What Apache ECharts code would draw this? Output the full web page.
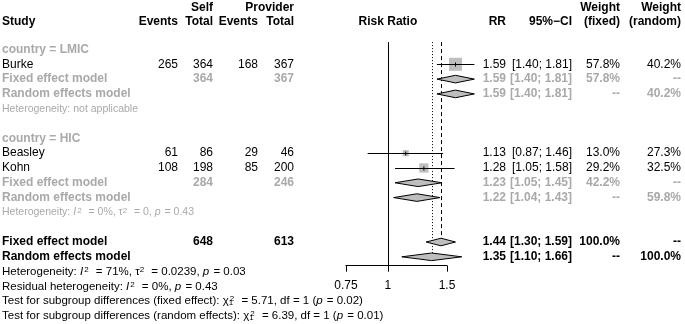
<!DOCTYPE html>
<html>
<head>
<meta charset="utf-8">
<script src="https://cdn.jsdelivr.net/npm/echarts@6/dist/echarts.min.js"></script>
<style>
  html, body { margin: 0; padding: 0; background: #fff; }
  #chart { width: 685px; height: 324px; }
</style>
</head>
<body>
<div id="chart"></div>
<script>
// studies
const studies = ['Burke', 'Beasley', 'Kohn'];
const studyRow = [1, 7, 8];
const eventsSelf = [265, 61, 108];
const totalSelf = [364, 86, 198];
const eventsProv = [168, 29, 85];
const totalProv = [367, 46, 200];
const rr = [1.59, 1.13, 1.28];
const rrLo = [1.40, 0.87, 1.05];
const rrHi = [1.81, 1.46, 1.58];
const wFixed = [57.8, 13.0, 29.2];
const wRandom = [40.2, 27.3, 32.5];

// subgroups
const subgroups = ['country = LMIC', 'country = HIC'];
const subRow = [0, 6];
const subTotalSelf = [364, 284];
const subTotalProv = [367, 246];
const subFixedRR = [1.59, 1.23];
const subFixedLo = [1.40, 1.05];
const subFixedHi = [1.81, 1.45];
const subFixedW = [57.8, 42.2];
const subRandomRR = [1.59, 1.22];
const subRandomLo = [1.40, 1.04];
const subRandomHi = [1.81, 1.43];
const subRandomW = [40.2, 59.8];
const subHet = [
  'Heterogeneity: not applicable',
  'Heterogeneity: {i|I}{sup|2} = 0%, τ{sup|2} = 0, {i|p} = 0.43'
];

// overall
const overallRow = 13;
const overallTotalSelf = 648;
const overallTotalProv = 613;
const overallFixed = [1.44, 1.30, 1.59];
const overallRandom = [1.35, 1.10, 1.66];
const footnotes = [
  'Heterogeneity: {i|I}{sup|2} = 71%, τ{sup|2} = 0.0239, {i|p} = 0.03',
  'Residual heterogeneity: {i|I}{sup|2} = 0%, {i|p} = 0.43',
  'Test for subgroup differences (fixed effect): χ{sub|1}{sup|2} = 5.71, df = 1 ({i|p} = 0.02)',
  'Test for subgroup differences (random effects): χ{sub|1}{sup|2} = 6.39, df = 1 ({i|p} = 0.01)'
];
const axisTicks = [0.75, 1, 1.5];

const FONT = 'Liberation Sans, Arial, Helvetica, sans-serif';
const GRAY = '#A9A9A9';
const FILL = '#BEBEBE';
// right edges of the table columns (left edge for study)
const colX = { study: 2, evS: 178, totS: 213, evP: 258, totP: 294, rr: 506, ci: 572, wF: 620, wR: 681 };

const f2 = v => v.toFixed(2);
const ciText = (l, h) => '[' + f2(l) + '; ' + f2(h) + ']';
const pct = w => w.toFixed(1) + '%';

// ---- table cells ----
const cells = [];
const cell = (col, row, text, o) => cells.push(Object.assign({ col, row, text, color: '#000', bold: false, size: 12 }, o || {}));

const h1 = -2.85, h2 = -1.9;
cell('study', h2, 'Study', { bold: true });
cell('evS', h2, 'Events', { bold: true });
cell('totS', h1, 'Self', { bold: true });
cell('totS', h2, 'Total', { bold: true });
cell('evP', h2, 'Events', { bold: true });
cell('totP', h1, 'Provider', { bold: true });
cell('totP', h2, 'Total', { bold: true });
cell('axis', h2, 'Risk Ratio', { bold: true });
cell('rr', h2, 'RR', { bold: true });
cell('ci', h2, '95%−CI', { bold: true });
cell('wF', h1, 'Weight', { bold: true });
cell('wF', h2, '(fixed)', { bold: true });
cell('wR', h1, 'Weight', { bold: true });
cell('wR', h2, '(random)', { bold: true });

studies.forEach((s, i) => {
  const r = studyRow[i];
  cell('study', r, s);
  cell('evS', r, String(eventsSelf[i]));
  cell('totS', r, String(totalSelf[i]));
  cell('evP', r, String(eventsProv[i]));
  cell('totP', r, String(totalProv[i]));
  cell('rr', r, f2(rr[i]));
  cell('ci', r, ciText(rrLo[i], rrHi[i]));
  cell('wF', r, pct(wFixed[i]));
  cell('wR', r, pct(wRandom[i]));
});

subgroups.forEach((g, k) => {
  const g0 = subRow[k];
  const n = studyRow.filter(r => r > g0 && r < g0 + 6).length;
  const rf = g0 + 1 + n, rrn = rf + 1;
  const gs = { color: GRAY, bold: true };
  cell('study', g0, g, gs);
  cell('study', rf, 'Fixed effect model', gs);
  cell('totS', rf, String(subTotalSelf[k]), gs);
  cell('totP', rf, String(subTotalProv[k]), gs);
  cell('rr', rf, f2(subFixedRR[k]), gs);
  cell('ci', rf, ciText(subFixedLo[k], subFixedHi[k]), gs);
  cell('wF', rf, pct(subFixedW[k]), gs);
  cell('wR', rf, '--', gs);
  cell('study', rrn, 'Random effects model', gs);
  cell('rr', rrn, f2(subRandomRR[k]), gs);
  cell('ci', rrn, ciText(subRandomLo[k], subRandomHi[k]), gs);
  cell('wF', rrn, '--', gs);
  cell('wR', rrn, pct(subRandomW[k]), gs);
  cell('study', rrn + 1, subHet[k], { color: GRAY, size: 10.5 });
});

cell('study', overallRow, 'Fixed effect model', { bold: true });
cell('totS', overallRow, String(overallTotalSelf), { bold: true });
cell('totP', overallRow, String(overallTotalProv), { bold: true });
cell('rr', overallRow, f2(overallFixed[0]), { bold: true });
cell('ci', overallRow, ciText(overallFixed[1], overallFixed[2]), { bold: true });
cell('wF', overallRow, '100.0%', { bold: true });
cell('wR', overallRow, '--', { bold: true });
cell('study', overallRow + 1, 'Random effects model', { bold: true });
cell('rr', overallRow + 1, f2(overallRandom[0]), { bold: true });
cell('ci', overallRow + 1, ciText(overallRandom[1], overallRandom[2]), { bold: true });
cell('wF', overallRow + 1, '--', { bold: true });
cell('wR', overallRow + 1, '100.0%', { bold: true });
footnotes.forEach((t, i) => cell('study', overallRow + 2 + i, t, { size: 11.5 }));

// ---- diamonds ----
const diamonds = [];
subgroups.forEach((g, k) => {
  const g0 = subRow[k];
  const n = studyRow.filter(r => r > g0 && r < g0 + 6).length;
  diamonds.push([Math.log(subFixedLo[k]), Math.log(subFixedHi[k]), Math.log(subFixedRR[k]), g0 + 1 + n]);
  diamonds.push([Math.log(subRandomLo[k]), Math.log(subRandomHi[k]), Math.log(subRandomRR[k]), g0 + 2 + n]);
});
diamonds.push([Math.log(overallFixed[1]), Math.log(overallFixed[2]), Math.log(overallFixed[0]), overallRow]);
diamonds.push([Math.log(overallRandom[1]), Math.log(overallRandom[2]), Math.log(overallRandom[0]), overallRow + 1]);

const DH = 3.8;     // half height of diamond, px
const BOX = 13;     // box side of the largest study, px
const maxW = Math.max(...wFixed);
const yMax = 14.6;

const chart = echarts.init(document.getElementById('chart'), null, { renderer: 'canvas' });

const option = {
  animation: false,
  grid: { left: 346, right: 238, top: 49.5, bottom: 58.3 },
  xAxis: {
    type: 'value',
    position: 'bottom',
    min: Math.log(axisTicks[0]),
    max: Math.log(axisTicks[axisTicks.length - 1]),
    axisLine: { onZero: false, lineStyle: { color: '#000', width: 1 } },
    axisTick: { show: true, inside: false, length: 6, lineStyle: { color: '#000' }, customValues: axisTicks.map(Math.log) },
    axisLabel: {
      customValues: axisTicks.map(Math.log),
      margin: 14,
      color: '#000',
      fontSize: 12,
      fontFamily: FONT,
      formatter: v => String(+Math.exp(v).toFixed(2))
    },
    splitLine: { show: false }
  },
  yAxis: {
    type: 'value',
    inverse: true,
    min: 0,
    max: yMax,
    show: false
  },
  series: [
    {
      // reference lines: no effect, fixed and random estimates
      type: 'custom',
      clip: false,
      silent: true,
      data: [[0]],
      renderItem: (params, api) => {
        const top = api.coord([0, -0.5])[1];
        const x1 = api.coord([0, 0])[0];
        const xf = api.coord([Math.log(overallFixed[0]), 0])[0];
        const xr = api.coord([Math.log(overallRandom[0]), 0])[0];
        const yb = api.coord([0, yMax])[1];
        const yf = api.coord([0, overallRow])[1] - DH;
        const yr = api.coord([0, overallRow + 1])[1] - DH;
        return {
          type: 'group',
          children: [
            { type: 'line', shape: { x1: Math.round(x1) + 0.5, y1: top, x2: Math.round(x1) + 0.5, y2: yb }, style: { stroke: '#000', lineWidth: 1 } },
            { type: 'line', shape: { x1: Math.round(xf) + 0.5, y1: top, x2: Math.round(xf) + 0.5, y2: yf }, style: { stroke: '#000', lineWidth: 1, lineDash: [4, 3] } },
            { type: 'line', shape: { x1: Math.round(xr) + 0.5, y1: top, x2: Math.round(xr) + 0.5, y2: yr }, style: { stroke: '#000', lineWidth: 1, lineDash: [1, 2] } }
          ]
        };
      }
    },
    {
      // study boxes and confidence intervals
      type: 'custom',
      clip: false,
      silent: true,
      data: studies.map((s, i) => [Math.log(rrLo[i]), Math.log(rrHi[i]), Math.log(rr[i]), studyRow[i], wFixed[i]]),
      renderItem: (params, api) => {
        const row = api.value(3);
        const lo = api.coord([api.value(0), row]);
        const hi = api.coord([api.value(1), row]);
        const c = api.coord([api.value(2), row]);
        const side = BOX * Math.sqrt(api.value(4) / maxW);
        const y = Math.round(c[1]) + 0.5;
        return {
          type: 'group',
          children: [
            { type: 'rect', shape: { x: c[0] - side / 2, y: c[1] - side / 2, width: side, height: side }, style: { fill: FILL } },
            { type: 'line', shape: { x1: lo[0], y1: y, x2: hi[0], y2: y }, style: { stroke: '#000', lineWidth: 1 } },
            { type: 'line', shape: { x1: c[0], y1: y - 2, x2: c[0], y2: y + 2 }, style: { stroke: '#000', lineWidth: 1 } }
          ]
        };
      }
    },
    {
      // pooled estimates
      type: 'custom',
      clip: false,
      silent: true,
      data: diamonds,
      renderItem: (params, api) => {
        const row = api.value(3);
        const lo = api.coord([api.value(0), row]);
        const hi = api.coord([api.value(1), row]);
        const c = api.coord([api.value(2), row]);
        return {
          type: 'polygon',
          shape: { points: [[lo[0], c[1]], [c[0], c[1] - DH], [hi[0], c[1]], [c[0], c[1] + DH]] },
          style: { fill: FILL, stroke: '#000', lineWidth: 1 }
        };
      }
    },
    {
      // table text
      type: 'custom',
      clip: false,
      silent: true,
      data: cells.map((c, i) => [i]),
      renderItem: (params, api) => {
        const c = cells[params.dataIndex];
        const y = api.coord([0, c.row])[1];
        const x = c.col === 'axis' ? api.coord([0, 0])[0] : colX[c.col];
        const align = c.col === 'study' ? 'left' : (c.col === 'axis' ? 'center' : 'right');
        const base = { fontFamily: FONT, fill: c.color, fontSize: c.size };
        return {
          type: 'text',
          x: x,
          y: y,
          style: {
            text: c.text,
            fill: c.color,
            fontFamily: FONT,
            fontSize: c.size,
            fontWeight: c.bold ? 'bold' : 'normal',
            align: align,
            verticalAlign: 'middle',
            rich: {
              i: Object.assign({}, base, { fontStyle: 'italic', padding: [0, 1, 0, 0] }),
              sup: Object.assign({}, base, { fontSize: 8, verticalAlign: 'top', padding: [0, 4, 0, 0] }),
              sub: Object.assign({}, base, { fontSize: 8, verticalAlign: 'bottom', width: 1 })
            }
          }
        };
      }
    }
  ]
};

chart.setOption(option);
</script>
</body>
</html>
